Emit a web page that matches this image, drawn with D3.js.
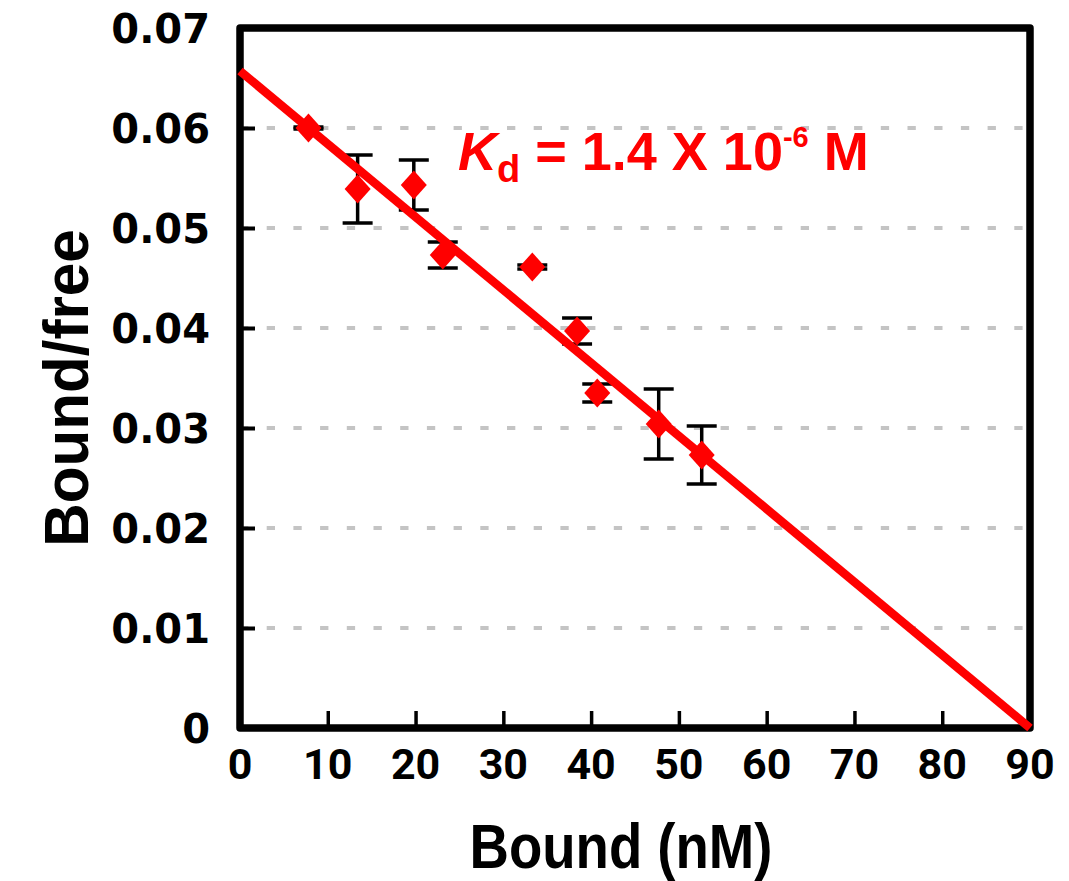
<!DOCTYPE html>
<html>
<head>
<meta charset="utf-8">
<script src="https://cdn.jsdelivr.net/npm/d3@7"></script>
<style>
  body { margin: 0; background: #fff; }
  svg { display: block; }
</style>
</head>
<body>
<svg width="1069" height="881"></svg>
<script>
// data
const bound = [7.8, 13.4, 19.8, 23.1, 33.3, 38.4, 40.7, 47.7, 52.6];
const boundFree = [0.0600, 0.0539, 0.0543, 0.0473, 0.0461, 0.0397, 0.0335, 0.0304, 0.0273];
const errors = [0.0001, 0.0034, 0.0025, 0.0013, 0.0002, 0.0013, 0.0009, 0.0035, 0.0029];
const fitX = [0, 90];
const fitY = [0.0657, 0];
const xTicks = [0, 10, 20, 30, 40, 50, 60, 70, 80, 90];
const yTicks = [0, 0.01, 0.02, 0.03, 0.04, 0.05, 0.06, 0.07];

const plotLeft = 240, plotRight = 1030, plotTop = 28, plotBottom = 728;

const svg = d3.select('svg');

const x = d3.scaleLinear().domain([0, 90]).range([plotLeft, plotRight]);
const y = d3.scaleLinear().domain([0, 0.07]).range([plotBottom, plotTop]);

// dashed gridlines
svg.append('g')
    .selectAll('line')
    .data(yTicks.filter(t => t > 0 && t < 0.07))
    .enter()
    .append('line')
    .attr('x1', plotLeft)
    .attr('x2', plotRight)
    .attr('y1', d => y(d))
    .attr('y2', d => y(d))
    .attr('stroke', '#c4c4c4')
    .attr('stroke-width', 4)
    .attr('stroke-dasharray', '8.3,18.4');

// y axis: ticks point inward
const yAxis = svg.append('g')
    .attr('transform', `translate(${plotLeft},0)`)
    .call(d3.axisRight(y).tickValues(yTicks).tickSize(15).tickFormat(''));
yAxis.select('.domain').remove();
yAxis.selectAll('line').attr('stroke', '#000').attr('stroke-width', 4);

// x axis: ticks point upward
const xAxis = svg.append('g')
    .attr('transform', `translate(0,${plotBottom})`)
    .call(d3.axisTop(x).tickValues(xTicks).tickSize(17).tickFormat(''));
xAxis.select('.domain').remove();
xAxis.selectAll('line').attr('stroke', '#000').attr('stroke-width', 3.5);

// frame
svg.append('rect')
    .attr('x', plotLeft)
    .attr('y', plotTop)
    .attr('width', plotRight - plotLeft)
    .attr('height', plotBottom - plotTop)
    .attr('fill', 'none')
    .attr('stroke', '#000')
    .attr('stroke-width', 7.5)
    .attr('stroke-linejoin', 'round');

// tick labels
svg.append('g')
    .selectAll('text')
    .data(yTicks)
    .enter()
    .append('text')
    .attr('x', 210)
    .attr('y', d => y(d) + 15)
    .attr('text-anchor', 'end')
    .attr('font-family', 'DejaVu Sans')
    .attr('font-weight', 'bold')
    .attr('font-size', 40)
    .text(d => d === 0 ? '0' : d3.format('.2f')(d));

svg.append('g')
    .selectAll('text')
    .data(xTicks)
    .enter()
    .append('text')
    .attr('x', d => x(d))
    .attr('y', 779)
    .attr('text-anchor', 'middle')
    .attr('font-family', 'Roboto')
    .attr('font-weight', 'bold')
    .attr('font-size', 43)
    .text(d => d);

// axis titles
svg.append('text')
    .attr('transform', 'translate(621,868) scale(0.866,1)')
    .attr('text-anchor', 'middle')
    .attr('font-family', 'Liberation Sans, Arial, sans-serif')
    .attr('font-weight', 'bold')
    .attr('font-size', 63)
    .text('Bound (nM)');

svg.append('text')
    .attr('transform', 'translate(88,388) rotate(-90) scale(0.955,1)')
    .attr('text-anchor', 'middle')
    .attr('font-family', 'Liberation Sans, Arial, sans-serif')
    .attr('font-weight', 'bold')
    .attr('font-size', 63)
    .text('Bound/free');

// error bars
const pts = bound.map((b, i) => ({ b: b, v: boundFree[i], e: errors[i] }));
const eb = svg.append('g').attr('stroke', '#000').attr('stroke-width', 3.5);
pts.forEach(p => {
    eb.append('line')
        .attr('x1', x(p.b)).attr('x2', x(p.b))
        .attr('y1', y(p.v + p.e)).attr('y2', y(p.v - p.e));
    [p.v + p.e, p.v - p.e].forEach(v => {
        eb.append('line')
            .attr('x1', x(p.b) - 15).attr('x2', x(p.b) + 15)
            .attr('y1', y(v)).attr('y2', y(v));
    });
});

// diamonds
svg.append('g')
    .selectAll('path')
    .data(pts)
    .enter()
    .append('path')
    .attr('transform', d => `translate(${x(d.b)},${y(d.v)})`)
    .attr('d', 'M0,-14.5L13,0L0,14.5L-13,0Z')
    .attr('fill', '#ff0000');

// fitted line
svg.append('path')
    .datum(fitX.map((v, i) => [v, fitY[i]]))
    .attr('d', d3.line().x(d => x(d[0])).y(d => y(d[1])))
    .attr('stroke', '#ff0000')
    .attr('stroke-width', 8.5)
    .attr('fill', 'none');

// Kd annotation
const kd = svg.append('text')
    .attr('x', 458)
    .attr('y', 170)
    .attr('fill', '#ff0000')
    .attr('font-family', 'Liberation Sans, Arial, sans-serif')
    .attr('font-weight', 'bold')
    .attr('font-size', 54);
kd.append('tspan').attr('font-style', 'italic').text('K');
kd.append('tspan').attr('font-size', 38).attr('dy', 12).text('d');
kd.append('tspan').attr('dy', -12).text(' = 1.4 X 10');
kd.append('tspan').attr('font-size', 29).attr('dy', -23).text('-6');
kd.append('tspan').attr('dy', 23).text(' M');
</script>
</body>
</html>
